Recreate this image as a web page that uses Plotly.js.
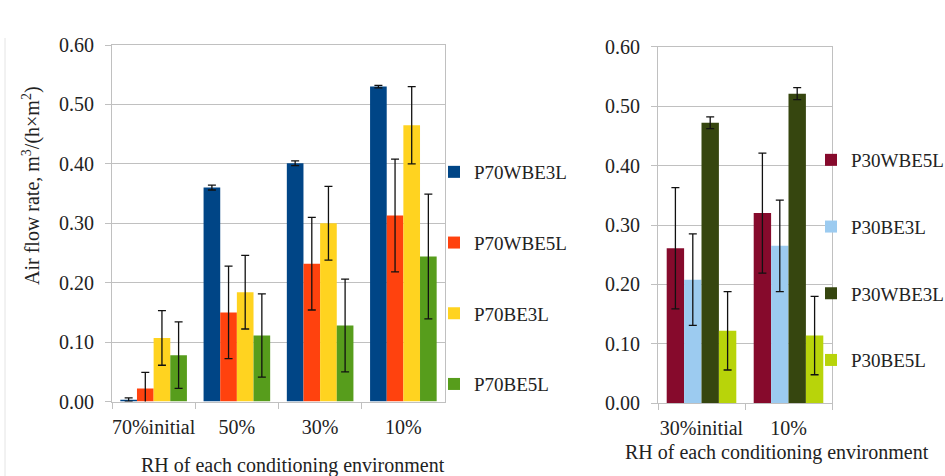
<!DOCTYPE html>
<html>
<head>
<meta charset="utf-8">
<script src="https://cdn.plot.ly/plotly-3.0.1.min.js"></script>
<style>html,body{margin:0;padding:0;background:#fff;}#chart{width:945px;height:476px;}</style>
</head>
<body>
<div id="chart"></div>
<script>
// ---- data ----
const categoriesLeft = ["70%initial", "50%", "30%", "10%"];
const p70wbe3l = [0.003, 0.360, 0.401, 0.530];
const p70wbe3lErr = [0.003, 0.004, 0.004, 0.002];
const p70wbe5l = [0.022, 0.150, 0.232, 0.313];
const p70wbe5lErr = [0.027, 0.078, 0.078, 0.095];
const p70be3l = [0.107, 0.184, 0.300, 0.465];
const p70be3lErr = [0.046, 0.062, 0.062, 0.065];
const p70be5l = [0.078, 0.111, 0.128, 0.244];
const p70be5lErr = [0.056, 0.070, 0.078, 0.105];

const categoriesRight = ["30%initial", "10%"];
const p30wbe5l = [0.261, 0.320];
const p30wbe5lErr = [0.102, 0.101];
const p30be3l = [0.208, 0.265];
const p30be3lErr = [0.077, 0.077];
const p30wbe3l = [0.472, 0.521];
const p30wbe3lErr = [0.010, 0.010];
const p30be5l = [0.122, 0.114];
const p30be5lErr = [0.066, 0.066];

const yTickVals = [0, 0.1, 0.2, 0.3, 0.4, 0.5, 0.6];

// ---- styling ----
const serif = "Liberation Serif";
const gridC = "#c0c0c0";
const FS = 20;
const LFS = 19;

function bar(name, x, y, err, color, xa, ya, legend) {
  return {
    type: "bar", name: name, x: x, y: y,
    xaxis: xa, yaxis: ya, legend: legend, legendgroup: name,
    marker: {color: color, line: {width: 0}},
    error_y: {type: "data", array: err, visible: true, color: "#111", thickness: 1.3, width: 4}
  };
}

const traces = [
  bar("P70WBE3L", categoriesLeft, p70wbe3l, p70wbe3lErr, "#004586", "x", "y", "legend"),
  bar("P70WBE5L", categoriesLeft, p70wbe5l, p70wbe5lErr, "#ff420e", "x", "y", "legend"),
  bar("P70BE3L", categoriesLeft, p70be3l, p70be3lErr, "#ffd320", "x", "y", "legend"),
  bar("P70BE5L", categoriesLeft, p70be5l, p70be5lErr, "#579d1c", "x", "y", "legend"),
  bar("P30WBE5L", categoriesRight, p30wbe5l, p30wbe5lErr, "#860a2c", "x2", "y2", "legend2"),
  bar("P30BE3L", categoriesRight, p30be3l, p30be3lErr, "#9ccbf0", "x2", "y2", "legend2"),
  bar("P30WBE3L", categoriesRight, p30wbe3l, p30wbe3lErr, "#36460f", "x2", "y2", "legend2"),
  bar("P30BE5L", categoriesRight, p30be5l, p30be5lErr, "#b8d40a", "x2", "y2", "legend2")
];

function xAxis(domain, anchor) {
  return {
    domain: domain, anchor: anchor, type: "category",
    showline: true, linecolor: gridC, linewidth: 1, mirror: true,
    ticks: "outside", tickson: "boundaries", ticklen: 6, tickcolor: gridC,
    tickangle: 0, ticklabelstandoff: 7, automargin: false,
    tickfont: {family: serif, size: FS, color: "#222"},
    showgrid: false, zeroline: false, fixedrange: true
  };
}
function yAxis(domain, anchor) {
  return {
    domain: domain, anchor: anchor, range: [0, 0.6],
    tickvals: yTickVals, tickformat: ".2f",
    showline: true, linecolor: gridC, linewidth: 1, mirror: true,
    ticks: "outside", ticklen: 6, tickcolor: gridC,
    ticklabelstandoff: 7, automargin: false,
    tickfont: {family: serif, size: FS, color: "#222"},
    showgrid: true, gridcolor: gridC, gridwidth: 1, zeroline: false, fixedrange: true
  };
}

const W = 945, H = 476;
const layout = {
  width: W, height: H,
  margin: {l: 0, r: 0, t: 0, b: 0, pad: 0, autoexpand: false},
  paper_bgcolor: "#fff", plot_bgcolor: "#fff",
  barmode: "group", bargap: 0.2, bargroupgap: 0,
  font: {family: serif, size: FS, color: "#222"},
  xaxis: xAxis([112 / W, 445 / W], "y"),
  yaxis: yAxis([1 - 401.5 / H, 1 - 45 / H], "x"),
  xaxis2: xAxis([658 / W, 832 / W], "y2"),
  yaxis2: yAxis([1 - 403.3 / H, 1 - 46.7 / H], "x2"),
  showlegend: true,
  legend: {
    x: 434 / W, xanchor: "left", y: 1 - 153 / H, yanchor: "top",
    font: {family: serif, size: LFS, color: "#222"},
    tracegroupgap: 43, bgcolor: "rgba(0,0,0,0)", traceorder: "grouped"
  },
  legend2: {
    x: 811 / W, xanchor: "left", y: 1 - 141 / H, yanchor: "top",
    font: {family: serif, size: LFS, color: "#222"},
    tracegroupgap: 39, bgcolor: "rgba(0,0,0,0)", traceorder: "grouped"
  },
  annotations: [
    {text: "Air flow rate, m<sup>3</sup>/(h×m<sup>2</sup>)", textangle: -90,
     x: 32 / W, y: 1 - 186 / H, xref: "paper", yref: "paper", showarrow: false,
     xanchor: "center", yanchor: "middle",
     font: {family: serif, size: FS, color: "#222"}},
    {text: "RH of each conditioning environment",
     x: 293 / W, y: 1 - 465 / H, xref: "paper", yref: "paper", showarrow: false,
     xanchor: "center", yanchor: "middle",
     font: {family: serif, size: FS, color: "#222"}},
    {text: "RH of each conditioning environment",
     x: 777 / W, y: 1 - 452 / H, xref: "paper", yref: "paper", showarrow: false,
     xanchor: "center", yanchor: "middle",
     font: {family: serif, size: FS, color: "#222"}}
  ],
  shapes: [
    {type: "line", xref: "paper", yref: "paper", x0: 5 / W, x1: 5 / W, y0: 0, y1: 1 - 38 / H,
     line: {color: "#e4e4e4", width: 1}}
  ]
};

Plotly.newPlot("chart", traces, layout, {displayModeBar: false, staticPlot: true});
</script>
</body>
</html>
